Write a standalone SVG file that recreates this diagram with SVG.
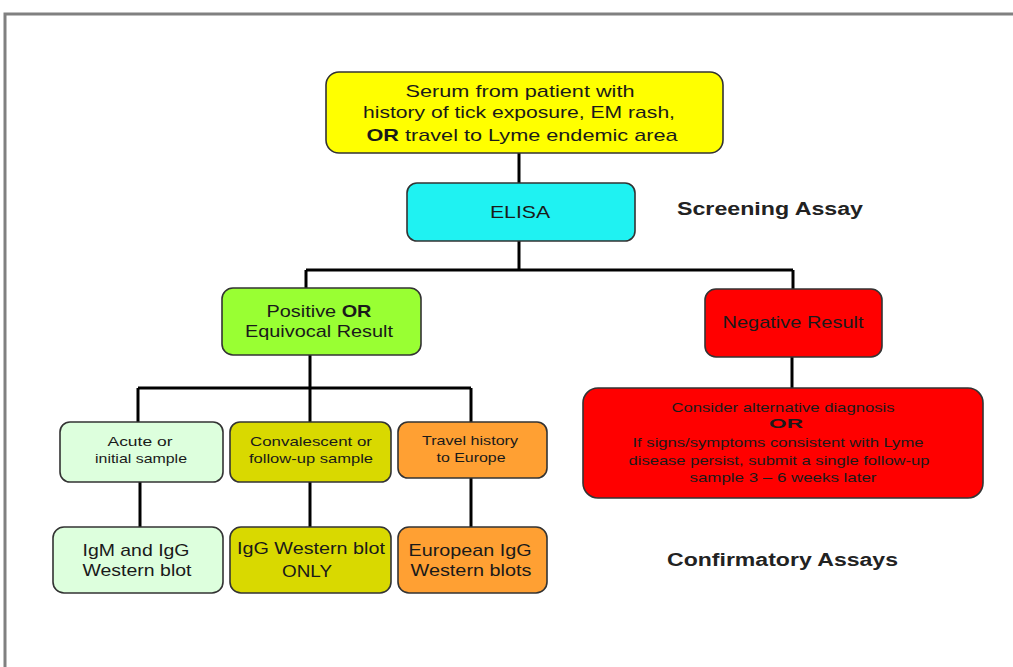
<svg xmlns="http://www.w3.org/2000/svg" width="1013" height="667" viewBox="0 0 1013 667">
<style>
.box{stroke:#333;stroke-width:1.6}
.t{font-family:"Liberation Sans",Arial,sans-serif;fill:#1a1a1a;text-anchor:middle}
.lg{font-size:17px}
.sm{font-size:13px}
.hd{font-family:"Liberation Sans",Arial,sans-serif;font-weight:bold;font-size:18px;fill:#222}
.c{stroke:#000;stroke-width:3;fill:none}
</style>
<rect x="0" y="0" width="1013" height="667" fill="#fff"/>
<rect x="5" y="14" width="1100" height="700" fill="none" stroke="#808080" stroke-width="3"/>
<g id="connectors">
<path class="c" d="M519 153V183"/>
<path class="c" d="M519 241V270"/>
<path class="c" d="M306 270H793"/>
<path class="c" d="M306 270V288"/>
<path class="c" d="M793 270V289"/>
<path class="c" d="M310 355V388"/>
<path class="c" d="M138 388H471"/>
<path class="c" d="M138 388V422"/>
<path class="c" d="M310 388V422"/>
<path class="c" d="M471 388V422"/>
<path class="c" d="M140 482V527"/>
<path class="c" d="M310 482V527"/>
<path class="c" d="M471 478V527"/>
<path class="c" d="M792 357V388"/>
</g>
<g id="serum">
<rect class="box" x="326" y="72" width="397" height="81" rx="13" fill="#FFFF00"/>
<text class="t lg" x="520" y="97" textLength="229" lengthAdjust="spacingAndGlyphs">Serum from patient with</text>
<text class="t lg" x="519" y="118" textLength="312" lengthAdjust="spacingAndGlyphs">history of tick exposure, EM rash,</text>
<text class="t lg" x="522" y="141" textLength="311" lengthAdjust="spacingAndGlyphs"><tspan font-weight="bold">OR</tspan> travel to Lyme endemic area</text>
</g>
<g id="elisa">
<rect class="box" x="407" y="183" width="228" height="58" rx="10" fill="#1FF2F2"/>
<text class="t lg" x="520" y="218" textLength="60" lengthAdjust="spacingAndGlyphs">ELISA</text>
</g>
<g id="screening">
<text class="hd" x="677" y="215" textLength="186" lengthAdjust="spacingAndGlyphs">Screening Assay</text>
</g>
<g id="positive">
<rect class="box" x="222" y="288" width="199" height="67" rx="11" fill="#99FF33"/>
<text class="t lg" x="319" y="317" font-size="16" textLength="105" lengthAdjust="spacingAndGlyphs">Positive <tspan font-weight="bold">OR</tspan></text>
<text class="t lg" x="319" y="337" font-size="16" textLength="148" lengthAdjust="spacingAndGlyphs">Equivocal Result</text>
</g>
<g id="negative">
<rect class="box" x="705" y="289" width="177" height="68" rx="11" fill="#FF0000"/>
<text class="t lg" x="793" y="328" textLength="141" lengthAdjust="spacingAndGlyphs">Negative Result</text>
</g>
<g id="consider">
<rect class="box" x="583" y="388" width="400" height="110" rx="15" fill="#FF0000"/>
<text class="t sm" x="783" y="412" textLength="223" lengthAdjust="spacingAndGlyphs">Consider alternative  diagnosis</text>
<text class="t sm" x="786" y="428" font-weight="bold" font-size="14" textLength="34" lengthAdjust="spacingAndGlyphs">OR</text>
<text class="t sm" x="778" y="447" textLength="291" lengthAdjust="spacingAndGlyphs">If signs/symptoms  consistent  with  Lyme</text>
<text class="t sm" x="779" y="465" textLength="301" lengthAdjust="spacingAndGlyphs">disease  persist, submit a single follow-up</text>
<text class="t sm" x="783" y="482" textLength="187" lengthAdjust="spacingAndGlyphs">sample  3 – 6 weeks  later</text>
</g>
<g id="acute">
<rect class="box" x="60" y="422" width="163" height="60" rx="10" fill="#DDFFDD"/>
<text class="t sm" x="140" y="446" textLength="65" lengthAdjust="spacingAndGlyphs">Acute  or</text>
<text class="t sm" x="141" y="463" textLength="92" lengthAdjust="spacingAndGlyphs">initial sample</text>
</g>
<g id="convalescent">
<rect class="box" x="230" y="422" width="161" height="60" rx="10" fill="#D9D900"/>
<text class="t sm" x="311" y="446" textLength="122" lengthAdjust="spacingAndGlyphs">Convalescent  or</text>
<text class="t sm" x="311" y="463" textLength="124" lengthAdjust="spacingAndGlyphs">follow-up  sample</text>
</g>
<g id="travel">
<rect class="box" x="398" y="422" width="149" height="56" rx="10" fill="#FFA033"/>
<text class="t sm" x="470" y="445" textLength="96" lengthAdjust="spacingAndGlyphs">Travel history</text>
<text class="t sm" x="471" y="462" textLength="69" lengthAdjust="spacingAndGlyphs">to  Europe</text>
</g>
<g id="igm">
<rect class="box" x="53" y="527" width="170" height="66" rx="11" fill="#DDFFDD"/>
<text class="t lg" x="136" y="556" textLength="107" lengthAdjust="spacingAndGlyphs">IgM  and  IgG</text>
<text class="t lg" x="137" y="576" textLength="109" lengthAdjust="spacingAndGlyphs">Western blot</text>
</g>
<g id="igg">
<rect class="box" x="230" y="527" width="161" height="66" rx="11" fill="#D9D900"/>
<text class="t lg" x="311" y="554" textLength="148" lengthAdjust="spacingAndGlyphs">IgG Western blot</text>
<text class="t lg" x="307" y="577" textLength="50" lengthAdjust="spacingAndGlyphs">ONLY</text>
</g>
<g id="european">
<rect class="box" x="398" y="527" width="149" height="66" rx="11" fill="#FFA033"/>
<text class="t lg" x="470" y="556" textLength="123" lengthAdjust="spacingAndGlyphs">European  IgG</text>
<text class="t lg" x="471" y="576" textLength="121" lengthAdjust="spacingAndGlyphs">Western blots</text>
</g>
<g id="confirmatory">
<text class="hd" x="667" y="566" textLength="231" lengthAdjust="spacingAndGlyphs">Confirmatory Assays</text>
</g>
</svg>
